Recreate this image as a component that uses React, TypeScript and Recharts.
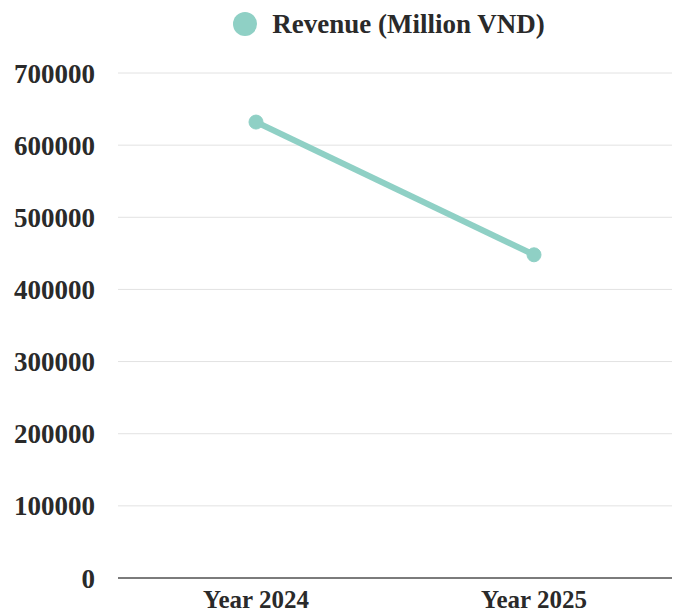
import {
  CartesianGrid,
  Legend,
  Line,
  LineChart,
  XAxis,
  YAxis,
} from "recharts";

const years = ["Year 2024", "Year 2025"];
const revenue = [632000, 448000];
const yTicks = [0, 100000, 200000, 300000, 400000, 500000, 600000, 700000];

const TEAL = "#8fd0c5";
const FONT = "'Liberation Serif', 'DejaVu Serif', serif";

const data = years.map((year, i) => ({ year, revenue: revenue[i] }));

function RevenueLegend() {
  return (
    <div
      style={{
        display: "flex",
        alignItems: "center",
        justifyContent: "center",
        height: 48,
        paddingLeft: 106,
        fontFamily: FONT,
        fontWeight: 700,
        fontSize: 27,
        color: "#2a2a2a",
      }}
    >
      <span
        style={{
          display: "inline-block",
          width: 24,
          height: 24,
          borderRadius: "50%",
          background: TEAL,
          marginRight: 15,
        }}
      />
      Revenue (Million VND)
    </div>
  );
}

export default function App() {
  return (
    <div style={{ position: "absolute", left: 0, top: 0, background: "#fff" }}>
      <LineChart
        width={681}
        height={615}
        data={data}
        margin={{ top: 0, right: 9, left: 0, bottom: 0 }}
      >
        <Legend verticalAlign="top" height={73} content={<RevenueLegend />} />
        <CartesianGrid vertical={false} stroke="#e2e2e2" strokeWidth={1} />
        <XAxis
          dataKey="year"
          height={37}
          padding={{ left: 138, right: 138 }}
          tickLine={false}
          tickSize={0}
          tickMargin={12}
          axisLine={{ stroke: "#555", strokeWidth: 1.5 }}
          tick={{ fontFamily: FONT, fontWeight: 700, fontSize: 25, fill: "#2a2a2a" }}
        />
        <YAxis
          width={118}
          domain={[0, 700000]}
          ticks={yTicks}
          axisLine={false}
          tickLine={false}
          tickSize={0}
          tickMargin={23}
          tick={{ fontFamily: FONT, fontWeight: 700, fontSize: 27, fill: "#2a2a2a" }}
        />
        <Line
          dataKey="revenue"
          stroke={TEAL}
          strokeWidth={6}
          dot={{ r: 7, fill: TEAL, stroke: TEAL, strokeWidth: 1 }}
          isAnimationActive={false}
        />
      </LineChart>
    </div>
  );
}
